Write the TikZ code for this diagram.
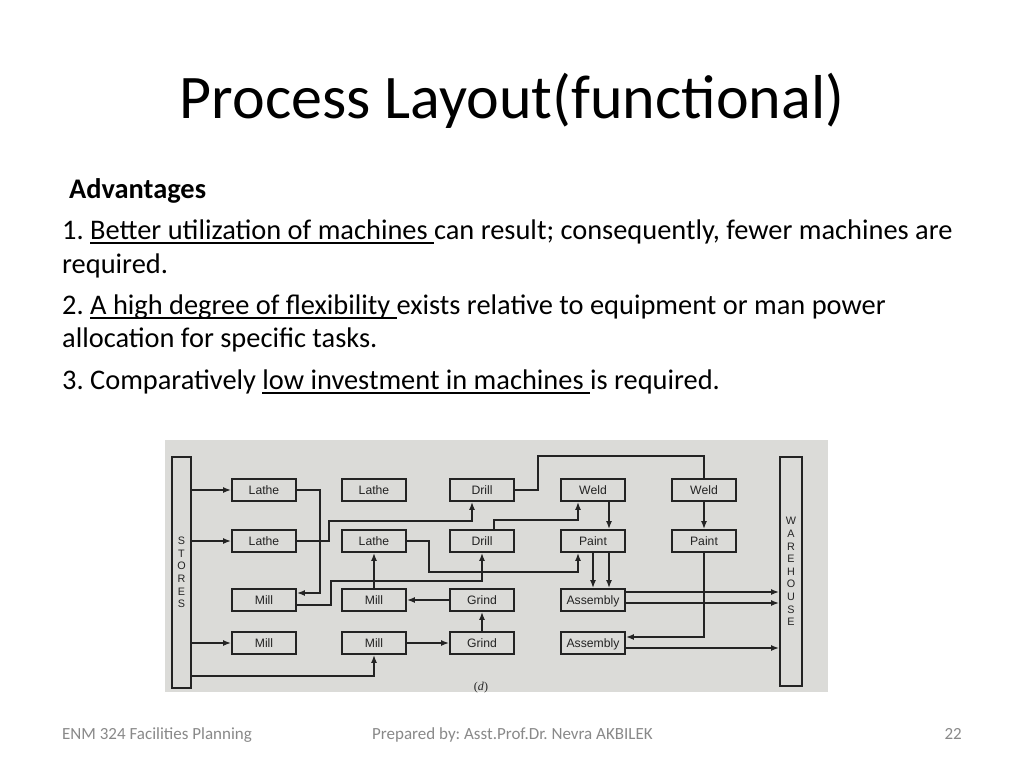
\documentclass[tikz,border=0pt]{standalone}
\usepackage{fontspec}
\setmainfont{Carlito}
\newfontfamily\scanfont{Liberation Sans}
\newfontfamily\scanserif{Liberation Serif}
\usetikzlibrary{arrows.meta,calc}
\definecolor{scan}{RGB}{219,219,216}
\definecolor{ink}{RGB}{35,35,35}
\definecolor{foot}{RGB}{137,137,137}
\newcommand\uln[1]{\setbox0\hbox{#1}\rlap{\rule[-4.5pt]{\wd0}{1.4pt}}\box0}
\frenchspacing

\begin{document}
\begin{tikzpicture}[x=1pt,y=-1pt,
  machine/.style={draw=ink,line width=1.8pt,fill=scan,minimum width=64pt,minimum height=22pt,inner sep=0pt,
    text height=8.8pt,text depth=0pt,font=\scanfont\fontsize{12.2}{12}\selectfont,text=ink},
  bar/.style={draw=ink,line width=1.8pt,fill=scan,minimum width=19pt,inner sep=0pt,align=center,
    font=\scanfont\fontsize{10.8}{12.6}\selectfont,text=ink},
  flow/.style={draw=ink,line width=2.4pt,-{Latex[length=8pt,width=6pt]}},
  pipe/.style={draw=ink,line width=2.4pt},
  line/.style={anchor=base west,inner sep=0pt,font=\fontsize{28.4}{30}\selectfont}]
\useasboundingbox (0,0) rectangle (1024,768);
\fill[white] (0,0) rectangle (1024,768);

\node[anchor=base,inner sep=0pt,font=\fontsize{62}{70}\selectfont] (title) at (512,118) {Process Layout(functional)};

\node[line] (adv) at (69,198) {\bfseries Advantages};
\node[line] (l1) at (62,239) {1. \uln{Better utilization of machines\ }can result; consequently, fewer machines are};
\node[line] (l1b) at (62,273) {required.};
\node[line] (l2) at (62,314) {2. \uln{A high degree of flexibility\ }exists relative to equipment or man power};
\node[line] (l2b) at (62,347) {allocation for specific tasks.};
\node[line] (l3) at (62,389) {3. Comparatively \uln{low investment in machines\ }is required.};

% scanned layout
\fill[scan] (165,440) rectangle (828,692);

\node[bar,minimum height=231pt] (stores) at (181.5,572.5) {S\\T\\O\\R\\E\\S};
\node[bar,minimum width=22pt,minimum height=229pt] (warehouse) at (791,571.5) {W\\A\\R\\E\\H\\O\\U\\S\\E};

\node[machine] (latheA) at (264,490) {Lathe};
\node[machine] (latheB) at (374,490) {Lathe};
\node[machine] (drillA) at (482,490) {Drill};
\node[machine] (weldA) at (593,490) {Weld};
\node[machine] (weldB) at (704,490) {Weld};

\node[machine] (latheC) at (264,541) {Lathe};
\node[machine] (latheD) at (374,541) {Lathe};
\node[machine] (drillB) at (482,541) {Drill};
\node[machine] (paintA) at (593,541) {Paint};
\node[machine] (paintB) at (704,541) {Paint};

\node[machine] (millA) at (264,600) {Mill};
\node[machine] (millB) at (374,600) {Mill};
\node[machine] (grindA) at (482,600) {Grind};
\node[machine] (assyA) at (593,600) {Assembly};

\node[machine] (millC) at (264,643) {Mill};
\node[machine] (millD) at (374,643) {Mill};
\node[machine] (grindB) at (482,643) {Grind};
\node[machine] (assyB) at (593,643) {Assembly};

\node[inner sep=0pt,text=ink,font=\scanserif\fontsize{12}{12}\selectfont] (tag) at (481,688) {(\textit{d})};

\draw[flow] (stores.east |- latheA) -- (latheA);
\draw[flow] (stores.east |- latheC) -- (latheC);
\draw[flow] (stores.east |- millC) -- (millC);
\draw[flow] ($(stores.south east)+(0,-13)$) -| (millD.south);

\draw[flow] (latheA.east) -- ++(23,0) |- ($(millA.east)+(0,-7)$);
\draw[flow] (latheC.east) -- ++(32,0) |- ($(drillA.south)+(-10,19)$) -- ($(drillA.south)+(-10,0)$);
\draw[flow] ($(millA.east)+(0,5)$) -- ++(34,0) |- ($(drillB.south)+(0,28)$) -- (drillB.south);
\draw[flow] (latheD.east) -- ++(22,0) |- ($(paintA.south)+(-15,19)$) -- ($(paintA.south)+(-15,0)$);
\draw[flow] (millB) -- (latheD);
\draw[flow] (grindA) -- (millB);
\draw[flow] (millD) -- (grindB);
\draw[flow] (grindB) -- (grindA);

\draw[flow] ($(drillB.north)+(12,0)$) |- ($(weldA.south)+(-15,18)$) -- ($(weldA.south)+(-15,0)$);
\draw[pipe] (drillA.east) -- ++(23,0) |- ($(weldB.north)+(0,-22)$) -- (weldB.north);
\draw[flow] ($(weldA.south)+(16,0)$) -- ($(paintA.north)+(16,0)$);
\draw[flow] (weldB) -- (paintB);
\draw[flow] (paintA) -- (assyA);
\draw[flow] ($(paintA.south)+(16,0)$) -- ($(assyA.north)+(16,0)$);
\draw[flow] (paintB.south) |- ($(assyB.east)+(0,-6)$);

\draw[flow] ($(assyA.east)+(0,-8)$) coordinate (outA) -- (outA -| warehouse.west);
\draw[flow] ($(assyA.east)+(0,3)$) coordinate (outB) -- (outB -| warehouse.west);
\draw[flow] ($(assyB.east)+(0,5)$) coordinate (outC) -- (outC -| warehouse.west);

\node[anchor=base west,inner sep=0pt,text=foot,font=\fontsize{17}{20}\selectfont] (course) at (62,739) {ENM 324 Facilities Planning};
\node[anchor=base west,inner sep=0pt,text=foot,font=\fontsize{17}{20}\selectfont] (author) at (372,739) {Prepared by: Asst.Prof.Dr. Nevra AKBILEK};
\node[anchor=base east,inner sep=0pt,text=foot,font=\fontsize{17}{20}\selectfont] (page) at (962,739) {22};
\end{tikzpicture}
\end{document}
